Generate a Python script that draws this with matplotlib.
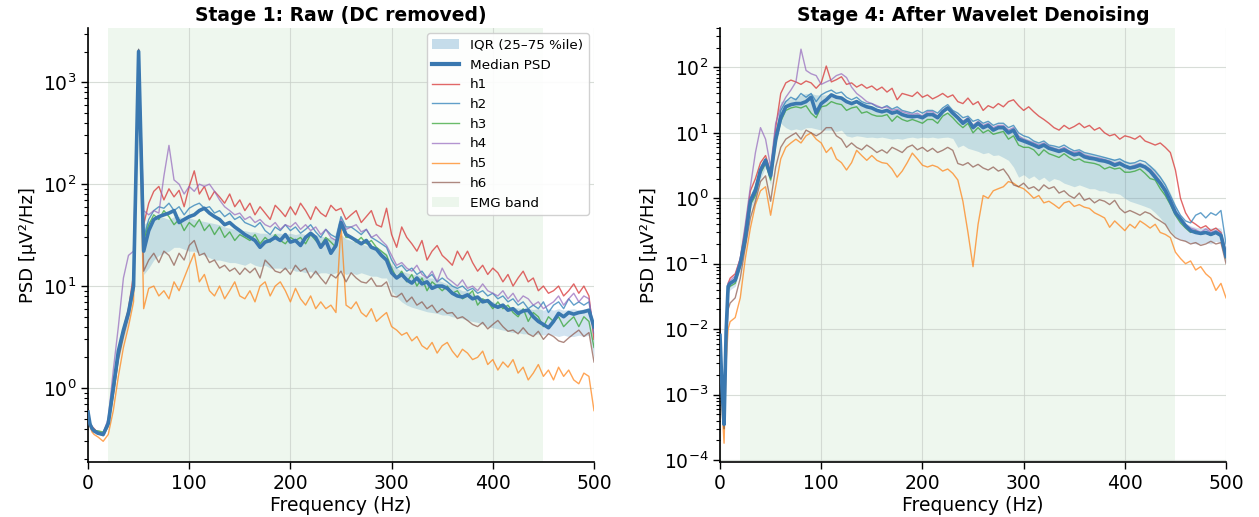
"""
PSD of the six h-channels: raw signal versus after wavelet denoising
"""
import matplotlib
matplotlib.use("agg")  # noqa: E402
import matplotlib.pyplot as plt
from matplotlib.lines import Line2D
from matplotlib.patches import Patch

# Frequency bins (Hz), finer at the very low end
FREQS = [0, 2, 4, 6, 8] + list(range(10, 505, 5))

CHANNELS = ['h1', 'h2', 'h3', 'h4', 'h5', 'h6']
CHANNEL_COLORS = ['tab:red', 'tab:blue', 'tab:green',
                  'tab:purple', 'tab:orange', 'tab:brown']
EMG_BAND = (20, 450)

# ---- Stage 1: raw (DC removed), uV^2/Hz ----
RAW_H1 = [0.62, 0.45, 0.42, 0.40, 0.38,
          0.37, 0.36, 0.47, 1.0, 2.2, 3.8, 6.0, 13, 2000, 40,
          65, 85, 95, 70, 90, 75, 87, 60, 95, 135,
          80, 95, 70, 85, 75, 65, 80, 60, 70, 55,
          65, 50, 60, 52, 45, 62, 55, 48, 60, 50,
          65, 55, 45, 60, 52, 48, 62, 55, 58, 45,
          50, 55, 42, 48, 55, 40, 38, 58, 32, 24,
          38, 30, 26, 22, 28, 18, 22, 25, 20, 18,
          16, 22, 18, 22, 17, 14, 16, 13, 15, 13.5,
          11, 13, 10, 12, 14, 11, 12, 9, 10, 8.5,
          9, 10, 8, 9, 10.5, 8.5, 10, 8, 3]
RAW_H2 = [0.58, 0.44, 0.40, 0.38, 0.37,
          0.36, 0.35, 0.45, 0.95, 2.2, 3.6, 5.5, 11, 2100, 30,
          45, 55, 60, 58, 65, 55, 60, 50, 58, 62,
          65, 58, 60, 52, 55, 48, 52, 45, 48, 42,
          40, 38, 42, 35, 32, 38, 35, 40, 35, 38,
          33, 36, 40, 34, 30, 36, 32, 30, 48, 38,
          38, 35, 32, 36, 30, 28, 26, 24, 18, 15,
          16, 14, 15, 13, 14, 12, 13, 11, 12, 11,
          10, 9.5, 10, 9, 9.5, 8.5, 9, 8, 8.5, 7.5,
          8, 7, 7.5, 6.5, 7, 6, 6.5, 6, 7, 5.5,
          6.5, 7, 6, 7.5, 6.5, 7, 6.5, 7, 3.5]
RAW_H3 = [0.60, 0.46, 0.41, 0.39, 0.38,
          0.38, 0.37, 0.44, 0.9, 2.0, 3.4, 5.2, 10, 1900, 28,
          40, 50, 45, 55, 48, 40, 45, 35, 42, 38,
          45, 35, 40, 32, 38, 30, 34, 28, 32, 30,
          28, 32, 26, 30, 27, 32, 28, 26, 30, 28,
          30, 26, 32, 28, 25, 30, 27, 24, 40, 30,
          30, 27, 30, 26, 28, 24, 22, 20, 15, 12,
          14, 11, 13, 10, 12, 9, 11, 10, 9, 10,
          8.5, 9, 7.5, 8, 9, 6.5, 7.5, 7, 6, 7,
          6, 6.5, 5.5, 5, 6, 4.5, 5.5, 5, 4, 5,
          4.5, 5, 4, 4.5, 5, 4, 5, 4.5, 2.5]
RAW_H4 = [0.58, 0.43, 0.39, 0.37, 0.37,
          0.36, 0.36, 0.5, 1.5, 4.0, 12, 20, 22, 2000, 55,
          50, 55, 52, 120, 240, 110, 100, 80, 95, 85,
          100, 95, 100, 85, 70, 60, 55, 50, 52, 45,
          48, 42, 45, 40, 38, 42, 36, 40, 38, 42,
          36, 40, 35, 38, 32, 36, 30, 28, 45, 36,
          38, 40, 34, 36, 30, 32, 28, 25, 20, 16,
          17, 15, 14, 16, 13, 12, 14, 11, 15, 12,
          11, 10, 11.5, 9.5, 10, 9, 10.5, 9, 8.5, 8,
          9, 7.5, 8.5, 7, 8, 7.5, 6.5, 7, 6, 6.5,
          7, 8, 6.5, 7.5, 8.5, 7, 8, 7.5, 3.5]
RAW_H5 = [0.55, 0.42, 0.37, 0.35, 0.34,
          0.33, 0.30, 0.35, 0.6, 1.3, 2.5, 4.0, 7, 1800, 6,
          9.5, 10, 8, 9, 7.5, 11, 9, 12, 16, 21,
          11, 13, 9, 8, 10, 7.5, 9, 11, 8, 7.5,
          9, 7, 10, 11, 8, 10, 11, 9, 7, 9.5,
          7.5, 6.5, 8, 6, 7, 6, 6.5, 5.5, 40, 6.5,
          6, 7, 5.5, 5, 6, 4.5, 5, 5.5, 4, 3.7,
          3.3, 3.5, 2.9, 3.2, 2.6, 2.4, 2.8, 2.2, 2.6, 2.8,
          2.3, 2.0, 2.4, 2.2, 1.9, 2.0, 2.3, 1.7, 1.9, 1.5,
          1.8, 1.6, 1.9, 1.4, 1.6, 1.2, 1.4, 1.7, 1.3, 1.5,
          1.2, 1.6, 1.3, 1.5, 1.2, 1.1, 1.4, 1.3, 0.6]
RAW_H6 = [0.60, 0.45, 0.40, 0.38, 0.37,
          0.36, 0.34, 0.42, 0.85, 1.9, 3.2, 5.0, 9, 2100, 14,
          18, 21, 17, 22, 20, 16, 21, 18, 25, 28,
          20, 21, 17, 18, 15, 16, 14, 15, 13, 15,
          13.5, 15, 12, 18, 16, 14, 13.5, 15, 13, 16,
          14, 15, 12, 14, 12, 10.5, 13, 12, 14, 11,
          13.5, 12, 11, 10.7, 12, 10, 10, 11, 8, 7.8,
          8.5, 7, 7.8, 6.5, 7, 6, 6.5, 5.5, 6, 5.4,
          5.5, 4.8, 5, 4.6, 4.2, 4, 4.4, 3.8, 4.2, 4.6,
          4, 3.6, 3.7, 3.4, 3.9, 3.4, 3.2, 3.6, 3.0, 3.4,
          3.2, 2.9, 2.8, 3.1, 3.4, 3.7, 3.2, 3.5, 1.8]
RAW_MEDIAN = [0.58, 0.44, 0.40, 0.38, 0.37,
              0.36, 0.35, 0.45, 1.0, 2.3, 3.7, 5.5, 10, 2000, 22,
              35, 45, 48, 50, 52, 55, 42, 45, 48, 50,
              55, 58, 52, 48, 45, 40, 42, 38, 35, 32,
              30, 28, 24, 27, 28, 30, 28, 32, 27, 28,
              25, 30, 33, 30, 24, 28, 21, 25, 42, 32,
              30, 28, 26, 28, 24, 23, 20, 18, 13.5, 12,
              13, 11.5, 10.7, 12, 10.5, 11, 9.5, 10, 10, 9.5,
              8.5, 8, 7.8, 8.2, 7.5, 7.8, 7, 7.2, 6.5, 6.2,
              6.5, 5.8, 6, 5.4, 5.7, 5.8, 5, 4.5, 4.2, 3.9,
              4.5, 5.4, 5, 5.5, 5.3, 5.5, 5.6, 5.8, 4]
RAW_Q25 = [0.50, 0.40, 0.37, 0.36, 0.35,
           0.35, 0.34, 0.42, 0.85, 1.8, 3.0, 4.5, 8, 1800, 13,
           15, 18, 20, 21, 22, 24, 24, 23, 22, 22,
           21, 20, 19, 18, 18, 17.5, 17, 17, 16.5, 16,
           17, 16, 15.5, 16, 15, 15, 15, 14.5, 15, 14,
           14, 13.5, 14, 13, 13.5, 13.5, 13, 13.5, 14, 13,
           13.5, 13, 13.5, 13, 12.5, 12.5, 12, 12, 9, 7.8,
           7, 6.5, 6.2, 6, 5.8, 5.6, 5.5, 5.4, 5.2, 5.2,
           5, 4.9, 4.8, 4.6, 4.5, 4.4, 4.2, 4.0, 3.9, 3.8,
           3.7, 3.6, 3.5, 3.5, 3.4, 3.4, 3.3, 3.4, 3.3, 3.4,
           3.3, 3.2, 3.3, 3.2, 3.2, 3.3, 3.2, 3.3, 2.0]
RAW_Q75 = [0.60, 0.46, 0.41, 0.39, 0.38,
           0.37, 0.36, 0.47, 1.0, 2.2, 3.6, 5.5, 10, 2000, 40,
           44, 46, 48, 47, 45, 48, 48, 46, 47, 45,
           44, 43, 42, 41, 40, 38, 37, 36, 35, 35,
           34, 34, 33, 33, 32, 33, 33, 32, 33, 32,
           33, 32, 33, 32, 31, 30, 30, 29, 32, 29,
           28, 27, 26, 25, 24, 23, 22, 21, 16, 15,
           14, 13.5, 13, 13, 12.5, 12, 12, 11.5, 11, 10.5,
           10, 9.5, 9, 9, 8.5, 8, 7.5, 7.2, 7, 6.8,
           6.6, 6.4, 6.2, 6.1, 6, 6, 5.9, 6, 5.8, 6,
           5.8, 6, 5.8, 5.9, 6, 5.8, 6, 5.9, 3.5]

# ---- Stage 4: after wavelet denoising, uV^2/Hz ----
DEN_H1 = [0.010, 0.0015, 0.0004, 0.012, 0.05,
          0.06, 0.07, 0.12, 0.35, 1.3, 2.0, 3.5, 4.5, 2.5, 12,
          40, 58, 64, 60, 55, 62, 58, 48, 58, 105,
          60, 65, 72, 55, 58, 50, 55, 48, 52, 45,
          50, 42, 48, 32, 40, 38, 36, 42, 35, 38,
          33, 36, 40, 35, 38, 30, 28, 34, 27, 30,
          22, 26, 24, 28, 25, 30, 32, 26, 22, 25,
          21, 18, 16, 14, 12, 11, 13, 11.5, 12.5, 14,
          12, 13, 11, 12, 10, 9, 9.5, 8, 9, 8.6,
          8, 9, 7.5, 7, 6.5, 7, 6, 5, 2.7, 1.0,
          0.6, 0.45, 0.4, 0.35, 0.38, 0.32, 0.35, 0.3, 0.15]
DEN_H2 = [0.009, 0.0012, 0.00035, 0.010, 0.045,
          0.05, 0.06, 0.10, 0.3, 1.0, 1.5, 2.8, 4.0, 2.0, 9,
          22, 30, 35, 32, 40, 35, 40, 30, 38, 42,
          45, 40, 42, 35, 32, 35, 30, 28, 28, 25,
          24, 26, 23, 25, 22, 21, 20, 22, 20, 22,
          22, 20, 24, 27, 22, 20, 17, 18, 15, 16,
          14, 15, 13, 14, 14, 12, 13, 10, 9, 8.5,
          7.5, 7, 7.5, 6.5, 6.3, 6, 6.5, 5.8, 5.3, 5.5,
          5, 4.8, 4.6, 4.4, 4.2, 4.0, 3.8, 4.0, 3.6, 3.4,
          3.5, 3.8, 3.6, 3.1, 2.6, 2.1, 1.6, 1.1, 0.75, 0.55,
          0.45, 0.42, 0.55, 0.6, 0.5, 0.6, 0.55, 0.65, 0.2]
DEN_H3 = [0.008, 0.0010, 0.0003, 0.008, 0.04,
          0.045, 0.05, 0.09, 0.2, 0.8, 1.1, 2.4, 3.4, 1.9, 7,
          15, 22, 24, 25, 24, 26, 20, 17, 25, 26,
          30, 28, 27, 22, 24, 25, 20, 21, 19, 18,
          18, 19, 15, 18, 16, 15, 16, 15, 14, 16,
          16, 14, 18, 20, 17, 14, 12, 14, 10, 12,
          10, 11, 9.5, 10, 10.5, 8, 9, 6.5, 6, 6,
          5.5, 4.5, 5.5, 4.8, 4.5, 4.2, 4.8, 4.2, 3.8, 4.0,
          3.6, 3.5, 3.4, 3.2, 2.8, 3.0, 2.8, 2.9, 2.5, 2.5,
          2.6, 2.8, 2.4, 2.0, 1.9, 1.4, 1.1, 0.8, 0.55, 0.42,
          0.35, 0.3, 0.32, 0.28, 0.3, 0.27, 0.3, 0.26, 0.12]
DEN_H4 = [0.009, 0.0013, 0.0004, 0.012, 0.05,
          0.055, 0.065, 0.12, 0.4, 1.5, 5, 12, 8, 3, 14,
          25, 35, 45, 60, 190, 90, 80, 75, 55, 60,
          65, 75, 80, 70, 50, 40, 35, 30, 28, 26,
          24, 25, 22, 23, 21, 20, 19, 20, 18, 21,
          21, 18, 22, 25, 21, 18, 15, 17, 13, 15,
          13, 14, 12, 13, 13, 11, 12, 9, 8, 7.5,
          7, 6.5, 7, 6.2, 5.8, 5.5, 6, 5.3, 5, 5.2,
          4.6, 4.4, 4.2, 4.1, 3.9, 3.7, 3.4, 3.6, 3.2, 3.0,
          3.2, 3.4, 3.1, 2.8, 2.3, 1.8, 1.4, 1.0, 0.65, 0.5,
          0.4, 0.35, 0.33, 0.3, 0.34, 0.3, 0.32, 0.29, 0.13]
DEN_H5 = [0.005, 0.0006, 0.00018, 0.003, 0.01,
          0.013, 0.015, 0.03, 0.12, 0.35, 0.8, 1.3, 1.5, 0.55, 1.5,
          4, 6, 7, 8, 7, 9, 10, 8, 7, 5,
          6, 4, 3.5, 2.7, 3.5, 5.4, 4.5, 3.8, 4.5, 3.8,
          3.5, 3.4, 2.8, 2.1, 2.6, 3.5, 4.9, 4, 3.2, 3,
          3.2, 3, 2.6, 2.8, 2.4, 1.9, 0.9, 0.3, 0.09, 0.4,
          1.1, 1.0, 1.3, 1.4, 1.5, 1.8, 1.7, 1.5, 1.4, 1.2,
          1.0, 1.1, 0.85, 0.9, 0.8, 0.7, 0.85, 0.9, 0.75, 0.8,
          0.73, 0.7, 0.6, 0.55, 0.5, 0.36, 0.45, 0.38, 0.32, 0.4,
          0.35, 0.45, 0.4, 0.35, 0.4, 0.3, 0.28, 0.25, 0.15, 0.12,
          0.1, 0.11, 0.08, 0.09, 0.07, 0.06, 0.039, 0.05, 0.03]
DEN_H6 = [0.008, 0.0010, 0.0003, 0.006, 0.02,
          0.025, 0.03, 0.06, 0.18, 0.5, 0.9, 1.8, 2.2, 0.9, 3,
          6, 8, 9, 10, 8, 11, 10, 9, 10, 12,
          12, 9, 8, 6, 7, 6, 5.5, 6.5, 5.8, 5,
          5.5, 4.9, 6, 5.5, 5, 6, 6.5, 5.5, 6, 5.2,
          5.8, 5, 5.4, 6, 5.4, 3.4, 3.2, 3.5, 3, 3.3,
          2.9, 2.7, 3, 2.6, 2.8, 2.2, 1.6, 1.5, 1.7, 1.4,
          1.5, 1.3, 1.6, 1.4, 1.5, 1.2, 1.3, 1.1, 1.0, 1.2,
          0.93, 1.0, 0.85, 0.95, 0.9, 0.8, 0.93, 0.7, 0.6, 0.65,
          0.6, 0.55, 0.62, 0.58, 0.5, 0.45, 0.4, 0.3, 0.25, 0.23,
          0.22, 0.2, 0.21, 0.19, 0.2, 0.22, 0.2, 0.21, 0.1]
DEN_MEDIAN = [0.008, 0.0012, 0.00035, 0.009, 0.045,
              0.05, 0.056, 0.10, 0.25, 0.9, 1.3, 2.7, 3.8, 2.2, 8,
              17, 25, 27, 28, 28, 30, 35, 20, 28, 32,
              38, 35, 34, 30, 28, 30, 27, 25, 24, 22,
              21, 22, 20, 21, 19, 18, 17.6, 18, 17, 19,
              19, 17, 21, 24, 20, 17, 14, 16, 12, 14,
              12, 13, 11, 12, 12, 10, 11, 8, 7.5, 7,
              6.5, 6, 6.5, 5.8, 5.5, 5.2, 5.5, 5, 4.6, 4.8,
              4.3, 4.1, 4, 3.8, 3.7, 3.5, 3.2, 3.4, 3.1, 2.9,
              3.0, 3.2, 3.0, 2.6, 2.1, 1.7, 1.3, 0.9, 0.6, 0.48,
              0.38, 0.32, 0.3, 0.29, 0.3, 0.28, 0.3, 0.27, 0.13]
DEN_Q25 = [0.007, 0.0009, 0.0003, 0.007, 0.035,
           0.04, 0.045, 0.08, 0.18, 0.7, 1.0, 2.0, 3.0, 1.6, 6,
           14, 12, 11, 11.5, 11, 12, 12, 11.5, 11, 11,
           11, 10.5, 11, 9, 8.6, 9, 8.8, 8.5, 8.6, 8.4,
           8.6, 8.3, 8, 8.2, 8, 8.4, 8.6, 8.3, 8.6, 8.4,
           8.6, 8.3, 8.5, 8.6, 8.2, 6, 6.5, 5.8, 5.5, 5.2,
           4.8, 5, 4.5, 4.6, 4.2, 3.8, 3, 2.1, 2.3, 2.0,
           2.2, 1.9, 2.1, 1.8, 2.0, 1.9, 1.7, 1.6, 1.5, 1.6,
           1.5, 1.4, 1.4, 1.3, 1.3, 1.2, 1.2, 1.15, 1.0, 0.9,
           0.85, 0.8, 0.75, 0.7, 0.6, 0.5, 0.4, 0.32, 0.26, 0.24,
           0.22, 0.21, 0.2, 0.2, 0.21, 0.2, 0.22, 0.21, 0.1]
DEN_Q75 = [0.009, 0.0013, 0.0004, 0.012, 0.05,
           0.055, 0.065, 0.11, 0.35, 1.1, 1.6, 3.2, 4.2, 2.4, 10,
           30, 32, 33, 35, 38, 40, 40, 38, 38, 38,
           38, 36, 35, 30, 28, 27, 26, 25, 24, 23,
           22, 21, 21, 20, 20, 20, 19, 19, 19, 20,
           20, 19, 20, 21, 20, 18, 16, 16, 14, 14,
           13, 13, 12, 12.5, 12, 11, 11, 9, 8.6, 8,
           7.5, 7, 7, 6.5, 6.2, 6, 6, 5.5, 5.2, 5.3,
           5, 4.8, 4.6, 4.4, 4.3, 4.1, 4, 4, 3.8, 3.6,
           3.5, 3.6, 3.4, 3.2, 2.8, 2.2, 1.7, 1.2, 0.8, 0.55,
           0.42, 0.38, 0.36, 0.35, 0.36, 0.35, 0.36, 0.35, 0.18]

# Labelled decades on each panel
RAW_DECADES = [1e0, 1e1, 1e2, 1e3]
DEN_DECADES = [1e-4, 1e-3, 1e-2, 1e-1, 1e0, 1e1, 1e2]

MEDIAN_COLOR = '#3a78b0'


def plot_panel(ax, title, channels, median, q25, q75, ylim, decades):
    # EMG band and IQR sit behind the traces
    ax.axvspan(*EMG_BAND, color='tab:green', alpha=0.08, lw=0, zorder=0)
    ax.fill_between(FREQS, q25, q75, color='tab:blue', alpha=0.2,
                    lw=0, zorder=1)
    for values, color in zip(channels, CHANNEL_COLORS):
        ax.plot(FREQS, values, color=color, lw=1.0, alpha=0.7, zorder=2)
    ax.plot(FREQS, median, color=MEDIAN_COLOR, lw=2.6, zorder=3)

    ax.set_yscale('log')
    ax.set_xlim(0, 500)
    ax.set_yticks(decades)
    ax.set_ylim(*ylim)
    ax.set_title(title, fontsize=13.5, fontweight='bold', pad=5)
    ax.set_xlabel("Frequency (Hz)", fontsize=13.5, labelpad=2)
    ax.set_ylabel("PSD [µV²/Hz]", fontsize=13, labelpad=4)

    ax.set_axisbelow(True)
    ax.grid(True, which='major', color='#c8cfc8', lw=0.8, alpha=0.7)
    ax.tick_params(axis='both', which='major', labelsize=13.5, length=5,
                   width=1.0)
    ax.tick_params(axis='y', which='minor', length=3, width=0.8)
    for side in ('top', 'right'):
        ax.spines[side].set_visible(False)
    for side in ('left', 'bottom'):
        ax.spines[side].set_linewidth(1.2)


def main():
    fig = plt.figure(figsize=(12.59, 5.17), dpi=100)
    ax1 = fig.add_axes([0.0699, 0.1064, 0.4019, 0.8394])
    ax2 = fig.add_axes([0.5719, 0.1064, 0.4019, 0.8394])

    plot_panel(ax1, "Stage 1: Raw (DC removed)",
               [RAW_H1, RAW_H2, RAW_H3, RAW_H4, RAW_H5, RAW_H6],
               RAW_MEDIAN, RAW_Q25, RAW_Q75, (0.188, 3400), RAW_DECADES)
    plot_panel(ax2, "Stage 4: After Wavelet Denoising",
               [DEN_H1, DEN_H2, DEN_H3, DEN_H4, DEN_H5, DEN_H6],
               DEN_MEDIAN, DEN_Q25, DEN_Q75, (9.3e-5, 400), DEN_DECADES)

    handles = [Patch(facecolor='tab:blue', alpha=0.25,
                     label="IQR (25–75 %ile)"),
               Line2D([], [], color=MEDIAN_COLOR, lw=3, label="Median PSD")]
    for name, color in zip(CHANNELS, CHANNEL_COLORS):
        handles.append(Line2D([], [], color=color, lw=1.0, alpha=0.7,
                              label=name))
    handles.append(Patch(facecolor='tab:green', alpha=0.08,
                         label="EMG band"))
    ax1.legend(handles=handles, loc='upper right', fontsize=9.7,
               framealpha=0.9, borderaxespad=0.4)

    fig.savefig('out.png', dpi=100)


if __name__ == '__main__':
    main()
